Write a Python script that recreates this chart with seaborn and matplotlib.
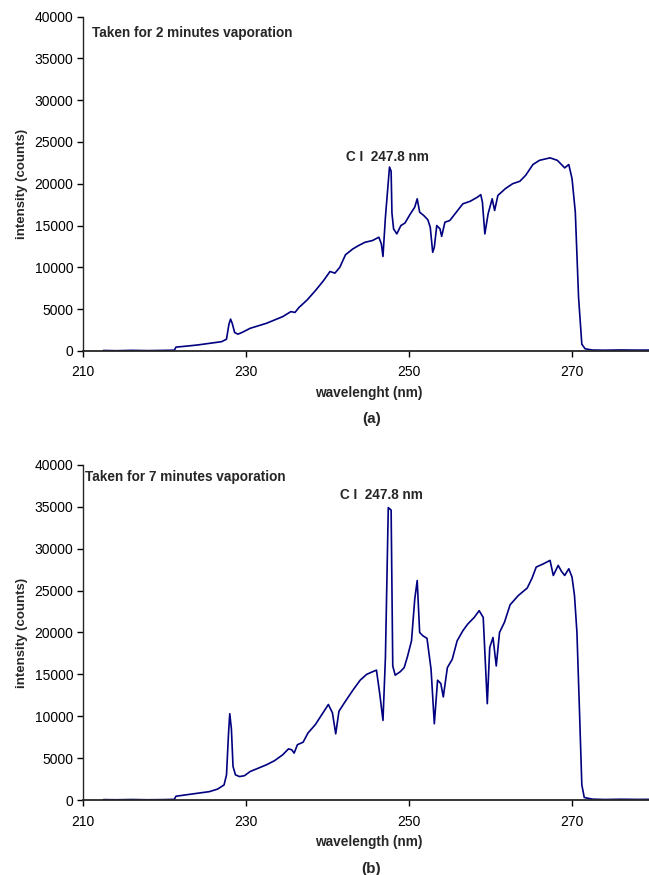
import numpy as np
import pandas as pd
import matplotlib
matplotlib.use('Agg')
import matplotlib.pyplot as plt
import seaborn as sns

# ================= DATA =================
wl_a = [212.5, 214, 216, 218, 220, 221.2, 221.4, 222.5, 224, 225.5, 227, 227.6, 227.9, 228.1, 228.3,
        228.6, 229.0, 229.5, 230.5, 231.5, 232.5, 233.5, 234.5, 235.5, 236.0, 236.5, 237.5, 238.5,
        239.5, 240.3, 240.9, 241.5, 242.2, 243.1, 243.8, 244.6, 245.5, 246.3, 246.6, 246.8, 247.1,
        247.4, 247.6, 247.8, 247.9, 248.1, 248.5, 249.0, 249.5, 250.1, 250.7, 251.0, 251.3, 251.8,
        252.3, 252.6, 252.9, 253.1, 253.4, 253.8, 254.0, 254.4, 255.0, 255.8, 256.6, 257.5, 258.4,
        258.8, 259.0, 259.3, 259.7, 260.2, 260.5, 260.9, 261.8, 262.7, 263.6, 264.3, 265.2, 266.0,
        267.3, 268.2, 268.8, 269.1, 269.6, 270.0, 270.4, 270.8, 271.2, 271.6, 272.5, 274, 276, 278, 280]
int_a = [50, 20, 60, 30, 60, 80, 450, 550, 700, 900, 1100, 1400, 3200, 3800, 3300,
         2200, 2000, 2200, 2700, 3000, 3300, 3700, 4100, 4700, 4600, 5200, 6100, 7200,
         8400, 9500, 9300, 10000, 11500, 12200, 12600, 13000, 13200, 13600, 12800, 11300, 16000,
         19600, 22000, 21500, 16500, 14600, 14000, 15000, 15300, 16300, 17200, 18200, 16600, 16200,
         15700, 14800, 11800, 12400, 15000, 14600, 13700, 15400, 15600, 16600, 17600, 17900, 18400,
         18700, 17800, 14000, 16400, 18200, 16800, 18600, 19400, 20000, 20300, 21000, 22300, 22800,
         23100, 22800, 22200, 21900, 22300, 20600, 16600, 6400, 800, 250, 100, 80, 110, 90, 100]

wl_b = [212.5, 214, 216, 218, 220, 221.2, 221.4, 222.5, 224, 225.5, 226.5, 227.3, 227.6, 227.85, 228.0,
        228.2, 228.4, 228.7, 229.2, 229.8, 230.5, 231.5, 232.5, 233.5, 234.5, 235.2, 235.6, 235.9,
        236.3, 237.0, 237.6, 238.5, 239.3, 240.1, 240.6, 241.0, 241.4, 242.2, 243.1, 244.0, 244.8,
        245.5, 246.0, 246.4, 246.8, 247.1, 247.45, 247.8, 248.0, 248.3, 248.9, 249.4, 249.8, 250.3,
        250.7, 251.0, 251.3, 251.7, 252.2, 252.7, 253.1, 253.5, 253.9, 254.2, 254.7, 255.3, 255.9,
        256.6, 257.2, 258.0, 258.6, 259.1, 259.6, 259.9, 260.3, 260.7, 261.1, 261.7, 262.4, 263.4,
        264.5, 265.1, 265.6, 266.5, 267.3, 267.7, 268.3, 268.7, 269.1, 269.6, 270.0, 270.3, 270.6,
        270.9, 271.2, 271.5, 272.5, 274, 276, 278, 280]
int_b = [50, 30, 60, 30, 50, 80, 450, 600, 800, 1000, 1300, 1800, 3000, 8000, 10300,
         8500, 4000, 3000, 2800, 2900, 3400, 3800, 4200, 4700, 5400, 6100, 6000, 5600,
         6600, 6900, 8000, 9000, 10200, 11400, 10400, 7900, 10600, 11800, 13100, 14300, 15000,
         15300, 15500, 12700, 9500, 17000, 34900, 34600, 16000, 14900, 15300, 15800, 17100, 19000,
         24000, 26200, 20000, 19600, 19300, 15600, 9100, 14300, 13900, 12300, 15800, 16800, 19000,
         20200, 21000, 21800, 22600, 21800, 11500, 18200, 19400, 16000, 20000, 21200, 23300, 24400,
         25300, 26500, 27800, 28200, 28600, 26800, 28000, 27300, 26800, 27600, 26600, 24400, 20000,
         11000, 1800, 300, 100, 60, 90, 70, 80]

titles = ['Taken for 2 minutes vaporation', 'Taken for 7 minutes vaporation']
xlabels = ['wavelenght (nm)', 'wavelength (nm)']
panel_tags = ['(a)', '(b)']
line_label = 'C I  247.8 nm'

# ================= PLOT =================
sns.set_style('ticks')
plt.rcParams['font.family'] = ['Liberation Sans', 'DejaVu Sans']

fig = plt.figure(figsize=(6.49, 8.75), dpi=100)
ax_a = fig.add_axes([0.128, 0.599, 0.879, 0.382])
ax_b = fig.add_axes([0.128, 0.0857, 0.879, 0.383])

spectra = [(wl_a, int_a), (wl_b, int_b)]
label_pos = [(247.4, 23200), (246.6, 36400)]
title_pos = [(211.1, 38000), (210.25, 38500)]
tag_y = [0.521, 0.0069]

for i, ax in enumerate([ax_a, ax_b]):
    df = pd.DataFrame({'wavelength': spectra[i][0], 'intensity': spectra[i][1]})
    sns.lineplot(data=df, x='wavelength', y='intensity', ax=ax, color='#000080', linewidth=1.2)
    ax.set_xlim(210, 280)
    ax.set_ylim(0, 40000)
    ax.set_xticks([210, 230, 250, 270])
    ax.set_yticks(np.arange(0, 40001, 5000))
    ax.tick_params(labelsize=10, length=4, width=1, colors='black')
    ax.tick_params(axis='x', pad=6.5)
    ax.tick_params(axis='y', pad=3)
    sns.despine(ax=ax)
    ax.spines['left'].set_linewidth(1.0)
    ax.spines['bottom'].set_linewidth(1.3)
    ax.set_xlabel(xlabels[i], fontsize=9.8, fontweight='bold', labelpad=4.5)
    ax.set_ylabel('intensity (counts)', fontsize=9.5, fontweight='bold', labelpad=5)
    ax.text(title_pos[i][0], title_pos[i][1], titles[i], fontsize=9.8, fontweight='bold', va='center')
    ax.text(label_pos[i][0], label_pos[i][1], line_label, fontsize=9.8, fontweight='bold',
            ha='center', va='center')
    fig.text(0.572, tag_y[i], panel_tags[i], fontsize=11, fontweight='bold', ha='center', va='center')

plt.savefig('out.png', dpi=100)
